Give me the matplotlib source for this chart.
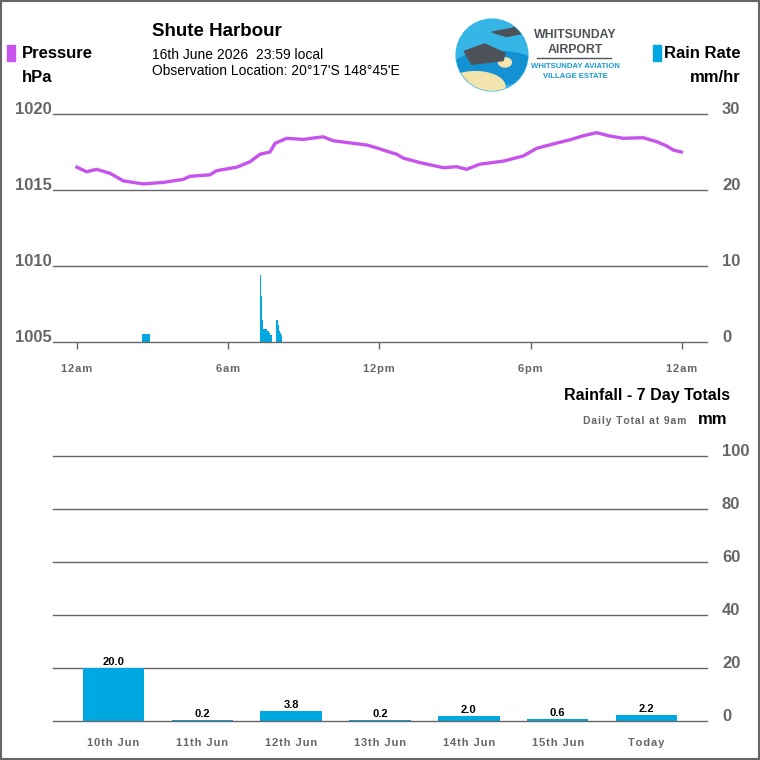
import numpy as np
import matplotlib.pyplot as plt
import matplotlib.transforms as mtransforms
from matplotlib.patches import Rectangle, Circle, Ellipse, Polygon

plt.rcParams['font.family'] = ['Liberation Sans', 'DejaVu Sans']

# ---- data ----
# pressure trace, hours since midnight -> hPa
p_hours = [0.0, 0.38, 0.78, 1.31, 1.84, 2.63, 3.42, 4.22, 4.48, 5.28, 5.54, 6.34,
           6.87, 7.26, 7.66, 7.86, 8.32, 8.98, 9.77, 10.17, 10.83, 11.5, 11.96,
           12.15, 12.69, 12.95, 13.61, 14.54, 15.07, 15.46, 15.99, 16.92, 17.71,
           18.24, 18.9, 19.56, 20.09, 20.62, 21.15, 21.68, 22.47, 23.0, 23.4,
           23.66, 23.98]
pressure = [1016.5, 1016.2, 1016.36, 1016.1, 1015.6, 1015.4, 1015.5, 1015.7,
            1015.9, 1016.0, 1016.27, 1016.5, 1016.86, 1017.35, 1017.5, 1018.07,
            1018.4, 1018.33, 1018.5, 1018.24, 1018.1, 1017.96, 1017.74, 1017.63,
            1017.35, 1017.1, 1016.8, 1016.47, 1016.53, 1016.36, 1016.7, 1016.9,
            1017.24, 1017.74, 1018.03, 1018.3, 1018.57, 1018.77, 1018.55, 1018.4,
            1018.44, 1018.18, 1017.9, 1017.63, 1017.5]

# rain rate, hours -> mm/hr
rain_hours = [2.58, 2.62, 2.66, 2.70, 2.74, 2.78, 2.82, 2.86,
              7.262, 7.302, 7.341, 7.381, 7.421, 7.46, 7.5, 7.54, 7.579, 7.619,
              7.659, 7.698,
              7.897, 7.937, 7.976, 8.016, 8.056, 8.095]
rain_rate = [1.0, 1.0, 1.0, 1.0, 1.0, 1.0, 1.0, 1.0,
             8.8, 6.0, 2.9, 1.7, 1.7, 1.7, 1.7, 1.4, 1.4, 1.2, 0.9, 0.9,
             2.9, 2.9, 2.2, 1.5, 1.2, 0.9]

time_ticks = [0, 6, 12, 18, 24]
time_labels = ['12am', '6am', '12pm', '6pm', '12am']
p_ticks = [1005, 1010, 1015, 1020]
r_ticks = [0, 10, 20, 30]

days = ['10th Jun', '11th Jun', '12th Jun', '13th Jun', '14th Jun', '15th Jun', 'Today']
totals = [20.0, 0.2, 3.8, 0.2, 2.0, 0.6, 2.2]
total_ticks = [0, 20, 40, 60, 80, 100]

# ---- style ----
W = H = 760
GREY = '#666666'
PURPLE = '#c653ec'
BLUE = '#00a8e2'
LOGO_GREY = '#4d5259'
LOGO_BLUE = '#1a9ad6'

fig = plt.figure(figsize=(7.6, 7.6), dpi=100)


def px_axes(x0, y0, x1, y1):
    return fig.add_axes([x0 / W, 1 - y1 / H, (x1 - x0) / W, (y1 - y0) / H])


def ftext(x, y, s, **kw):
    return fig.text(x / W, 1 - y / H, s, **kw)


def spaced(s):
    # the small grey labels are letter-spaced in the original
    return '\u200a'.join(s)


def ylabels(ax, ticks, side):
    tr = mtransforms.blended_transform_factory(ax.transAxes, ax.transData)
    for t in ticks:
        if side == 'left':
            xy, off, ha = (0, t), (-1, 0), 'right'
        else:
            xy, off, ha = (1, t), (15, 0), 'left'
        ax.annotate(str(t), xy=xy, xycoords=tr, xytext=off,
                    textcoords='offset pixels', ha=ha, va='baseline',
                    fontsize=12, fontweight='bold', color=GREY,
                    annotation_clip=False)


# ---- top chart: pressure and rain rate ----
ax1 = px_axes(53, 114, 707, 342)
ax2 = ax1.twinx()
ax1.set_xlim(-0.95, 25.0)
ax1.set_ylim(1005, 1020)
ax2.set_ylim(0, 30)
for t in p_ticks:
    ax1.axhline(t, color=GREY, lw=1, zorder=1, clip_on=False)
ax2.bar(rain_hours, rain_rate, width=0.042, color=BLUE, align='edge', zorder=2)
ax1.plot(p_hours, pressure, color=PURPLE, lw=2.4, zorder=3)
ax1.set_zorder(ax2.get_zorder() + 1)
ax1.patch.set_visible(False)
for a in (ax1, ax2):
    for s in a.spines.values():
        s.set_visible(False)
ax1.set_yticks([])
ax2.set_yticks([])
ax1.set_xticks(time_ticks)
ax1.set_xticklabels([spaced(s) for s in time_labels])
ax1.tick_params(axis='x', length=5, width=1, color=GREY, pad=10.5,
                labelsize=8, labelcolor=GREY)
for lab in ax1.get_xticklabels():
    lab.set_fontweight('bold')
ylabels(ax1, p_ticks, 'left')
ylabels(ax2, r_ticks, 'right')

# ---- bottom chart: daily totals ----
ax3 = px_axes(53, 456, 707, 721)
ax3.set_xlim(-0.68, 6.68)
ax3.set_ylim(0, 100)
for t in total_ticks:
    ax3.axhline(t, color=GREY, lw=1, zorder=3 if t == 0 else 1, clip_on=False)
x = np.arange(len(days))
ax3.bar(x, totals, width=0.69, color=BLUE, zorder=2)
for xi, v in zip(x, totals):
    ax3.annotate(f'{v:.1f}', xy=(xi, v), xytext=(0, 3), textcoords='offset pixels',
                 ha='center', va='baseline', fontsize=8, fontweight='bold',
                 color='black')
for s in ax3.spines.values():
    s.set_visible(False)
ax3.set_yticks([])
ax3.set_xticks(x)
ax3.set_xticklabels([spaced(d) for d in days])
ax3.tick_params(axis='x', length=0, pad=12, labelsize=8, labelcolor=GREY)
for lab in ax3.get_xticklabels():
    lab.set_fontweight('bold')
ylabels(ax3, total_ticks, 'right')

# ---- header ----
ftext(152, 32, 'Shute Harbour', fontsize=13.5, fontweight='bold', va='center')
ftext(152, 55, '16th June 2026  23:59 local', fontsize=10, va='center')
ftext(152, 71, "Observation Location: 20°17'S 148°45'E", fontsize=10, va='center')

fig.patches.append(Rectangle((7 / W, 1 - 61 / H), 8 / W, 16 / H, color=PURPLE,
                             transform=fig.transFigure))
ftext(22, 54, 'Pressure', fontsize=12, fontweight='bold', va='center')
ftext(22, 77, 'hPa', fontsize=12, fontweight='bold', va='center')

fig.patches.append(Rectangle((653 / W, 1 - 61 / H), 8 / W, 16 / H, color=BLUE,
                             transform=fig.transFigure))
ftext(741, 54, 'Rain Rate', fontsize=12, fontweight='bold', va='center', ha='right')
ftext(741, 77, 'mm/hr', fontsize=12, fontweight='bold', va='center', ha='right')

ftext(730, 396, 'Rainfall - 7 Day Totals', fontsize=11.5, fontweight='bold',
      va='center', ha='right')
ftext(686, 421, spaced('Daily Total at 9am'), fontsize=7.5, fontweight='bold',
      color=GREY, va='center', ha='right')
ftext(727, 419, 'mm', fontsize=12, fontweight='bold', va='center', ha='right')

# ---- logo ----
lg = px_axes(455, 18, 529, 92)
lg.set_xlim(-1, 1)
lg.set_ylim(-1, 1)
lg.axis('off')
disc = Circle((0, 0), 0.97, color='#35b6e6')
lg.add_patch(disc)
for patch in [Ellipse((0.1, -0.35), 2.4, 0.9, color='#1391d2'),
              Ellipse((-0.45, -0.85), 1.6, 0.8, color='#f3e4ad'),
              Ellipse((0.35, -0.2), 0.35, 0.25, color='#f3e4ad'),
              Polygon([[-0.75, 0.1], [-0.2, 0.3], [0.35, 0.05], [0.3, -0.15],
                       [-0.55, -0.25]], color=LOGO_GREY),
              Polygon([[0.0, 0.62], [0.55, 0.72], [0.95, 0.95], [0.9, 0.6],
                       [0.4, 0.5]], color=LOGO_GREY)]:
    lg.add_patch(patch)
    patch.set_clip_path(disc)

ftext(575, 35, 'WHITSUNDAY', fontsize=8.8, fontweight='bold', color=LOGO_GREY,
      ha='center', va='center')
ftext(575, 50, 'AIRPORT', fontsize=8.8, fontweight='bold', color=LOGO_GREY,
      ha='center', va='center')
fig.add_artist(plt.Line2D([537 / W, 611 / W], [1 - 58 / H, 1 - 58 / H],
                          color=LOGO_GREY, lw=1, transform=fig.transFigure))
ftext(575, 66, 'WHITSUNDAY AVIATION', fontsize=5.6, fontweight='bold',
      color=LOGO_BLUE, ha='center', va='center')
ftext(575, 77, 'VILLAGE ESTATE', fontsize=5.6, fontweight='bold',
      color=LOGO_BLUE, ha='center', va='center')

# frame round the whole picture
fig.patches.append(Rectangle((0.0015, 0.0015), 0.997, 0.997, fill=False,
                             edgecolor=GREY, lw=1.5, transform=fig.transFigure))

fig.savefig('out.png', dpi=100)
